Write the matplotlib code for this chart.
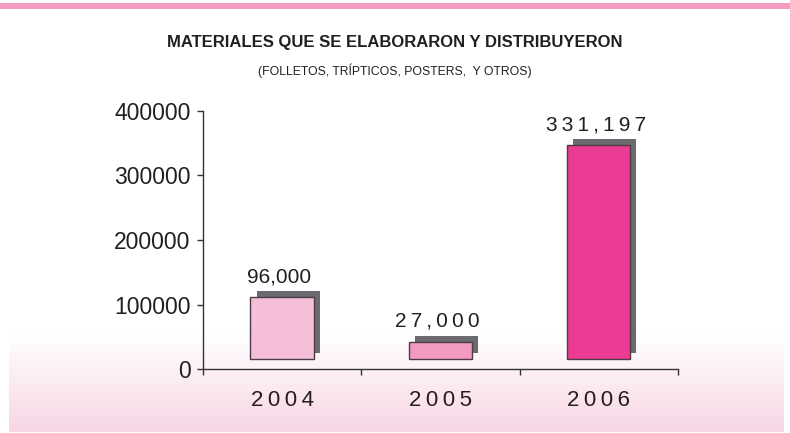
"""Materiales elaborados y distribuidos por año (barras con sombra)."""
import numpy as np
import matplotlib.pyplot as plt
from matplotlib.lines import Line2D
from matplotlib.transforms import ScaledTranslation

years = ["2004", "2005", "2006"]
values = [96000, 27000, 331197]
value_labels = ["96,000", "27,000", "331,197"]
spaced_label = [False, True, True]
bar_colors = ["#f6bfd9", "#f39ac3", "#eb3b93"]
y_ticks = [0, 100000, 200000, 300000, 400000]

title = "MATERIALES QUE SE ELABORARON Y DISTRIBUYERON"
subtitle = "(FOLLETOS, TRÍPTICOS, POSTERS,  Y OTROS)"

THIN = "\u2009"
NUM_FONT = ["Liberation Sans", "DejaVu Sans"]
TITLE_FONT = ["Liberation Sans", "DejaVu Sans"]
INK = "#231f20"


def spaced(s):
    return THIN.join(s)


def main():
    fig = plt.figure(figsize=(7.9, 4.33), dpi=100)
    fig.patch.set_facecolor("white")

    # pink rule across the top
    fig.add_artist(Line2D([0, 1], [1 - 6 / 433, 1 - 6 / 433],
                          transform=fig.transFigure, color="#f49bc2", lw=4.3))

    # soft pink gradient band behind the bottom of the chart
    bg = fig.add_axes([9 / 790, 1 / 433, 775 / 790, 97 / 433], zorder=0)
    grad = np.linspace(0, 1, 100)[:, None]
    top_c = np.array([1.0, 1.0, 1.0])
    bot_c = np.array([248, 214, 229]) / 255
    img = top_c + (bot_c - top_c) * grad[..., None]
    bg.imshow(img, aspect="auto", origin="upper", extent=[0, 1, 0, 1])
    bg.set_axis_off()

    ax = fig.add_axes([203 / 790, 64 / 433, 475 / 790, 258 / 433], zorder=1)
    ax.patch.set_alpha(0)

    x = np.arange(len(years))
    front = ax.transData + ScaledTranslation(0, 0.10, fig.dpi_scale_trans)
    shadow = ax.transData + ScaledTranslation(0.06, 0.16, fig.dpi_scale_trans)
    ax.bar(x, values, width=0.4, color="#6b6b6f", transform=shadow,
           clip_on=False, zorder=2)
    ax.bar(x, values, width=0.4, color=bar_colors, edgecolor="#4d3c44",
           linewidth=1.0, transform=front, clip_on=False, zorder=3)

    for xi, v, lab, sp in zip(x, values, value_labels, spaced_label):
        ax.annotate(spaced(lab) if sp else lab, (xi, v), xytext=(-2, 22),
                    textcoords="offset points", ha="center", va="center",
                    fontsize=15, color=INK, family=NUM_FONT)

    ax.set_xlim(-0.5, 2.5)
    ax.set_ylim(0, 400000)
    ax.set_yticks(y_ticks)
    ax.set_yticklabels([str(t) for t in y_ticks], family=NUM_FONT,
                       fontsize=16.5, color=INK)
    ax.set_xticks(x)
    ax.set_xticklabels([spaced(y) for y in years], family=NUM_FONT,
                       fontsize=16, color=INK)
    ax.set_xticks([-0.5, 0.5, 1.5, 2.5], minor=True)
    ax.tick_params(axis="x", which="major", length=0, pad=15)
    ax.tick_params(axis="x", which="minor", length=4, direction="out",
                   color="#333333", width=1)
    ax.tick_params(axis="y", length=4, direction="out", color="#333333",
                   width=1, pad=5)

    for side in ("top", "right"):
        ax.spines[side].set_visible(False)
    for side in ("left", "bottom"):
        ax.spines[side].set_color("#333333")
        ax.spines[side].set_linewidth(1)

    fig.text(395 / 790, 1 - 42 / 433, title, ha="center", va="center",
             fontsize=12, fontweight="bold", color=INK, family=TITLE_FONT)
    fig.text(395 / 790, 1 - 71 / 433, subtitle, ha="center", va="center",
             fontsize=8.8, color=INK, family=TITLE_FONT)

    fig.savefig("out.png", dpi=100)


if __name__ == "__main__":
    main()
